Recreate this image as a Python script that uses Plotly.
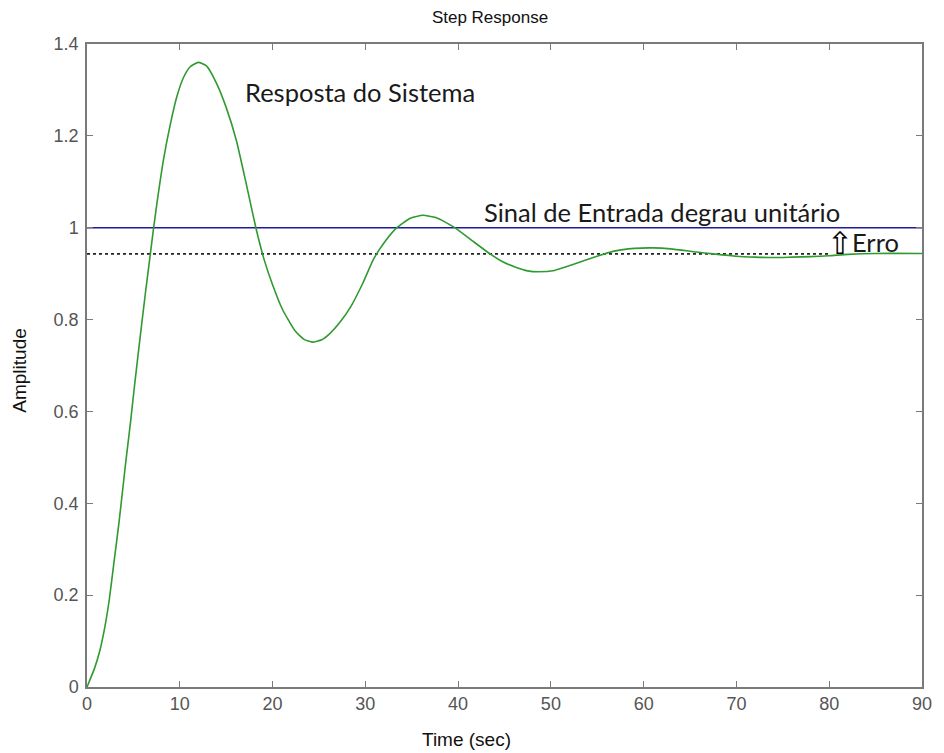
import plotly.graph_objects as go

# ---- data ----
time_s = [0, 0.8, 1.33, 1.87, 2.4, 2.93, 3.46, 3.82, 4.18, 4.71, 5.06, 5.6, 6.31, 6.84,
          7.15, 7.55, 8.26, 8.98, 9.68, 10.4, 11.1, 12.0, 12.9, 13.95, 15.0, 16.1, 17.15,
          18.2, 19.1, 20.0, 21.05, 22.4, 23.4, 24.3, 25.3, 26.2, 27.3, 28.4, 29.7, 30.9,
          32.2, 33.4, 34.8, 36.2, 37.6, 38.8, 39.8, 41.5, 43.3, 44.8, 46.2, 47.5, 48.6,
          50.4, 52.4, 54.4, 56.8, 59.0, 61.0, 62.9, 65.7, 67.5, 70, 72, 74, 76, 78, 80,
          82, 85, 90]
amplitude = [0, 0.04, 0.075, 0.125, 0.19, 0.275, 0.36, 0.425, 0.49, 0.58, 0.645, 0.74,
             0.86, 0.945, 0.995, 1.055, 1.15, 1.225, 1.285, 1.327, 1.35, 1.36, 1.352, 1.315,
             1.262, 1.19, 1.097, 1.0, 0.93, 0.876, 0.823, 0.776, 0.757, 0.751, 0.756, 0.77,
             0.795, 0.827, 0.878, 0.932, 0.972, 1.0, 1.02, 1.027, 1.022, 1.01, 0.998, 0.972,
             0.945, 0.926, 0.914, 0.906, 0.904, 0.907, 0.92, 0.934, 0.949, 0.955, 0.956,
             0.954, 0.947, 0.943, 0.938, 0.936, 0.935, 0.936, 0.937, 0.939, 0.942, 0.944,
             0.944]

input_t = [0, 90]
input_v = [1.0, 1.0]

steady_t = [0, 80]
steady_v = [0.943, 0.943]

x_ticks = [0, 10, 20, 30, 40, 50, 60, 70, 80, 90]
y_ticks = [0, 0.2, 0.4, 0.6, 0.8, 1.0, 1.2, 1.4]
y_tick_text = ["0", "0.2", "0.4", "0.6", "0.8", "1", "1.2", "1.4"]

title_text = "Step Response"
x_title = "Time (sec)"
y_title = "Amplitude"
label_response = "Resposta do Sistema"
label_input = "Sinal de Entrada degrau unitário"
label_error = "Erro"

fig = go.Figure()
fig.add_trace(go.Scatter(x=steady_t, y=steady_v, mode="lines",
                         line=dict(color="#222222", width=1.6, dash="dot"),
                         hoverinfo="skip", showlegend=False))
fig.add_trace(go.Scatter(x=input_t, y=input_v, mode="lines",
                         line=dict(color="#1c1c9c", width=1.6),
                         showlegend=False))
fig.add_trace(go.Scatter(x=time_s, y=amplitude, mode="lines",
                         line=dict(color="#2f9a2f", width=1.6, shape="spline", smoothing=0.5),
                         showlegend=False))

text_font = dict(family="Lato, Open Sans, sans-serif", size=25.5, color="#1a1a1a")
fig.add_annotation(x=16.8, y=1.295, text=label_response, showarrow=False,
                   xanchor="left", yanchor="middle", font=text_font)
fig.add_annotation(x=42.6, y=1.034, text=label_input, showarrow=False,
                   xanchor="left", yanchor="middle", font=text_font)
fig.add_annotation(x=81.2, y=0.966, text="⇧", showarrow=False,
                   xanchor="center", yanchor="middle",
                   font=dict(family="DejaVu Sans", size=31, color="#000000"))
fig.add_annotation(x=82.2, y=0.969, text=label_error, showarrow=False,
                   xanchor="left", yanchor="middle", font=text_font)

label_font = dict(family="Liberation Sans, Arial, sans-serif", size=19, color="#111111")
fig.add_annotation(xref="paper", yref="paper", x=0.454, y=-0.0824, text=x_title,
                   showarrow=False, xanchor="center", yanchor="middle", font=label_font)
fig.add_annotation(xref="paper", yref="paper", x=-0.0818, y=0.493, text=y_title,
                   showarrow=False, xanchor="center", yanchor="middle", textangle=-90,
                   font=label_font)

axis_common = dict(showgrid=False, zeroline=False, showline=True, linecolor="#7a7a7a",
                   linewidth=1.5, mirror="ticks", ticks="inside", ticklen=6,
                   tickcolor="#7a7a7a", tickwidth=1,
                   tickfont=dict(family="Liberation Sans, Arial, sans-serif", size=18, color="#555555"))

fig.update_xaxes(range=[0, 90], tickvals=x_ticks, **axis_common)
fig.update_yaxes(range=[0, 1.4], tickvals=y_ticks, ticktext=y_tick_text,
                 ticklabelstandoff=3, **axis_common)

fig.update_layout(
    width=944, height=753,
    margin=dict(l=87, r=13, t=44, b=66),
    paper_bgcolor="white", plot_bgcolor="white",
    title=dict(text=title_text, x=490 / 944, xref="container", xanchor="center",
               y=1 - 17 / 753, yref="container", yanchor="middle",
               font=dict(family="Liberation Sans, Arial, sans-serif", size=17, color="#111111")),
    showlegend=False,
)

fig.write_html("out.html")
